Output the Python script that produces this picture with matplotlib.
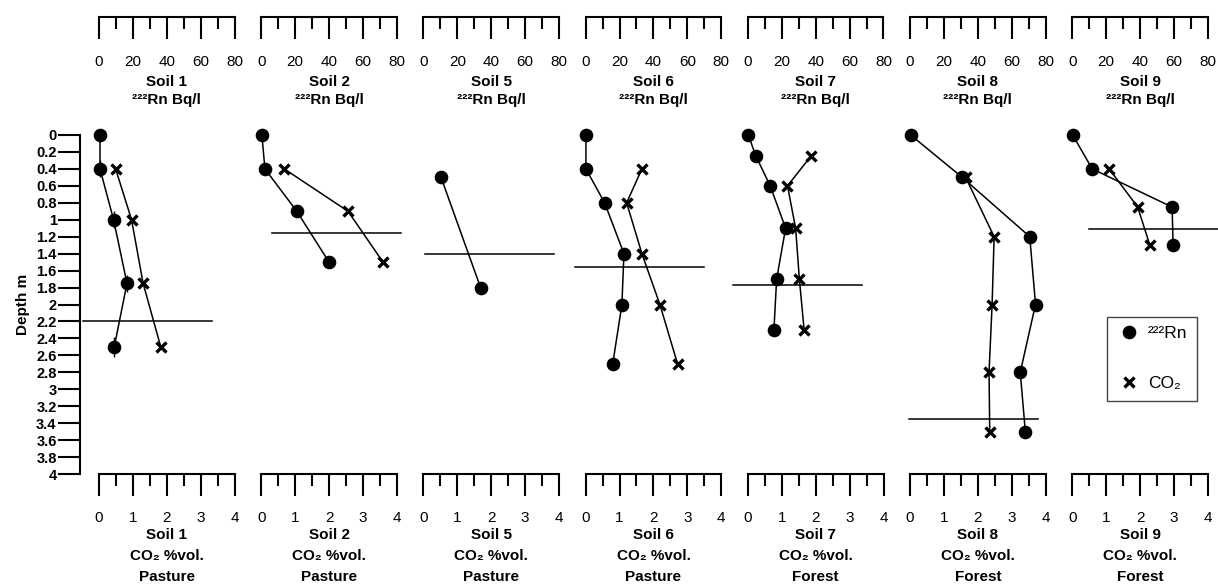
import numpy as np
import matplotlib
matplotlib.use('Agg')
import matplotlib.pyplot as plt
from matplotlib.lines import Line2D
from matplotlib.ticker import MultipleLocator, FuncFormatter

plt.rcParams['font.family'] = ['Liberation Sans', 'DejaVu Sans']

soils = ['Soil 1', 'Soil 2', 'Soil 5', 'Soil 6', 'Soil 7', 'Soil 8', 'Soil 9']
land_use = ['Pasture', 'Pasture', 'Pasture', 'Pasture', 'Forest', 'Forest', 'Forest']

# 222Rn (Bq/l) profiles
rn_depth_1 = [0, 0.4, 1.0, 1.75, 2.5]
rn_1 = [0.6, 0.6, 8.6, 16.5, 9.0]
rn_err_1 = [0, 0.1, 0.1, 0.1, 0.12]
rn_depth_2 = [0, 0.4, 0.9, 1.5]
rn_2 = [0.4, 2.2, 21.0, 40.0]
rn_depth_5 = [0.5, 1.8]
rn_5 = [10.4, 33.7]
rn_depth_6 = [0, 0.4, 0.8, 1.4, 2.0, 2.7]
rn_6 = [0.2, 0.2, 11.2, 22.6, 21.4, 16.0]
rn_depth_7 = [0, 0.25, 0.6, 1.1, 1.7, 2.3]
rn_7 = [0.3, 4.8, 13.2, 22.3, 17.0, 15.4]
rn_depth_8 = [0, 0.5, 1.2, 2.0, 2.8, 3.5]
rn_8 = [0.4, 30.8, 70.6, 74.0, 65.0, 68.0]
rn_depth_9 = [0, 0.4, 0.85, 1.3]
rn_9 = [0.3, 11.8, 58.9, 59.5]

# CO2 (%vol.) profiles
co2_depth_1 = [0.4, 1.0, 1.75, 2.5]
co2_1 = [0.49, 0.96, 1.3, 1.82]
co2_depth_2 = [0.4, 0.9, 1.5]
co2_2 = [0.68, 2.56, 3.59]
co2_depth_5 = []
co2_5 = []
co2_depth_6 = [0.4, 0.8, 1.4, 2.0, 2.7]
co2_6 = [1.66, 1.21, 1.66, 2.19, 2.71]
co2_depth_7 = [0.25, 0.6, 1.1, 1.7, 2.3]
co2_7 = [1.86, 1.17, 1.41, 1.52, 1.66]
co2_depth_8 = [0.5, 1.2, 2.0, 2.8, 3.5]
co2_8 = [1.64, 2.48, 2.42, 2.33, 2.35]
co2_depth_9 = [0.4, 0.85, 1.3]
co2_9 = [1.09, 1.93, 2.29]

# horizon boundary depth and its extent in Rn units
boundary_depth = [2.2, 1.16, 1.41, 1.555, 1.77, 3.35, 1.11]
boundary_from = [-9.4, 6.6, 1.0, -6.2, -8.5, -0.8, 10.0]
boundary_to = [66.5, 82.5, 76.8, 69.8, 67.6, 75.5, 90.0]

rn_depths = [rn_depth_1, rn_depth_2, rn_depth_5, rn_depth_6, rn_depth_7, rn_depth_8, rn_depth_9]
rn_values = [rn_1, rn_2, rn_5, rn_6, rn_7, rn_8, rn_9]
co2_depths = [co2_depth_1, co2_depth_2, co2_depth_5, co2_depth_6, co2_depth_7, co2_depth_8, co2_depth_9]
co2_values = [co2_1, co2_2, co2_5, co2_6, co2_7, co2_8, co2_9]

W, H = 1218, 588
px0, step, pw = 99, 162.2, 135.7
top_y, bot_y, scale_y = 135, 474, 17.3

fig = plt.figure(figsize=(W / 100, H / 100), dpi=100)

rn_style = dict(color='black', marker='o', markersize=8.8, linewidth=1.1, clip_on=False)
co2_style = dict(color='black', marker='x', markersize=7, markeredgewidth=2.4, linewidth=1.1, clip_on=False)

for i, soil in enumerate(soils):
    left = (px0 + i * step) / W
    ax = fig.add_axes([left, 1 - bot_y / H, pw / W, (bot_y - top_y) / H])
    ax.set_xlim(0, 4)
    ax.set_ylim(4, 0)
    for s in ['top', 'right', 'left']:
        ax.spines[s].set_visible(False)
    ax.spines['bottom'].set_linewidth(1.5)
    ax.xaxis.set_major_locator(MultipleLocator(1))
    ax.xaxis.set_minor_locator(MultipleLocator(0.5))
    ax.tick_params(axis='x', which='major', direction='out', length=15.8, width=1.5, pad=10.5, labelsize=11)
    ax.tick_params(axis='x', which='minor', direction='out', length=8.4, width=1.5)
    ax.set_xlabel(f'{soil}\nCO₂ %vol.\n{land_use[i]}', fontweight='bold', fontsize=11,
                  labelpad=2.5, linespacing=1.65)

    if i == 0:
        ax.spines['left'].set_visible(True)
        ax.spines['left'].set_linewidth(1.5)
        ax.spines['left'].set_position(('outward', 13.7))
        ax.yaxis.set_major_locator(MultipleLocator(0.2))
        ax.yaxis.set_major_formatter(FuncFormatter(lambda v, p: f'{round(v, 1):g}'))
        ax.tick_params(axis='y', direction='out', length=15.8, width=1.5, pad=1, labelsize=10.5)
        for lab in ax.get_yticklabels():
            lab.set_fontweight('bold')
        ax.set_ylabel('Depth m', fontweight='bold', fontsize=11, labelpad=4.5)
    else:
        ax.yaxis.set_visible(False)

    axr = ax.twiny()
    axr.set_xlim(0, 80)
    axr.set_ylim(4, 0)
    axr.xaxis.set_ticks_position('bottom')
    axr.xaxis.set_label_position('bottom')
    for s in ['top', 'right', 'left']:
        axr.spines[s].set_visible(False)
    axr.spines['bottom'].set_visible(True)
    axr.spines['bottom'].set_linewidth(1.5)
    axr.spines['bottom'].set_position(('axes', (bot_y - scale_y) / (bot_y - top_y)))
    axr.xaxis.set_major_locator(MultipleLocator(20))
    axr.xaxis.set_minor_locator(MultipleLocator(10))
    axr.tick_params(axis='x', which='major', direction='out', length=15.8, width=1.5, pad=11.5, labelsize=11)
    axr.tick_params(axis='x', which='minor', direction='out', length=8.4, width=1.5)
    axr.set_xlabel(f'{soil}\n²²²Rn Bq/l', fontweight='bold', fontsize=11, labelpad=4, linespacing=1.4)

    if co2_values[i]:
        ax.plot(co2_values[i], co2_depths[i], **co2_style)
    axr.plot(rn_values[i], rn_depths[i], **rn_style)
    if i == 0:
        axr.errorbar(rn_values[i], rn_depths[i], yerr=rn_err_1, fmt='none', ecolor='black',
                     elinewidth=1, clip_on=False)
    axr.plot([boundary_from[i], boundary_to[i]], [boundary_depth[i]] * 2, color='black',
             linewidth=1.1, clip_on=False)

handles = [Line2D([], [], color='black', marker='o', markersize=8.8, linestyle='none'),
           Line2D([], [], color='black', marker='x', markersize=7, markeredgewidth=2.4, linestyle='none')]
leg = fig.legend(handles, ['²²²Rn', 'CO₂'], loc='upper left', bbox_to_anchor=(1107 / W, 1 - 316.7 / H),
                 borderaxespad=0, fontsize=12.5, labelspacing=2.0, borderpad=0.55, handlelength=1.4,
                 handletextpad=0.4, fancybox=False, framealpha=1, edgecolor='#444444')
leg.get_frame().set_linewidth(1)

fig.savefig('out.png', dpi=100)
